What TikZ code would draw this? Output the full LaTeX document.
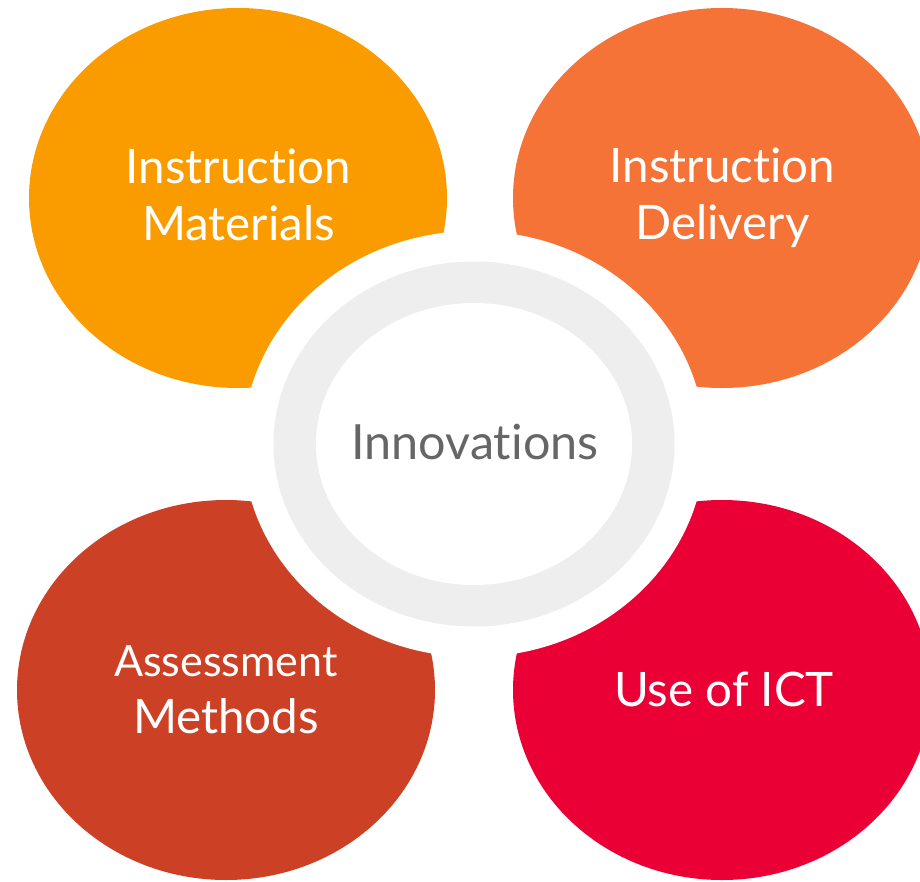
\documentclass[tikz,border=0pt]{standalone}
\usepackage{fontspec}
\setmainfont{Lato}[Ligatures=NoCommon]
\definecolor{matlorange}{HTML}{FA9B00}
\definecolor{delivorange}{HTML}{F57336}
\definecolor{assessrust}{HTML}{CC4125}
\definecolor{ictred}{HTML}{EB0036}
\definecolor{hubgray}{HTML}{EEEEEE}
\definecolor{hubtext}{HTML}{666666}
\tikzset{
  petal/.style={text=white, align=center, font=\fontsize{47.5}{57}\selectfont},
  hublabel/.style={text=hubtext, font=\fontsize{48.5}{57}\selectfont},
}
\begin{document}
\begin{tikzpicture}[x=1pt,y=-1pt]
    \useasboundingbox (0,0) rectangle (920,881);
    \clip (0,0) rectangle (920,881);
    \foreach \c/\x/\y in {matlorange/238/198, delivorange/722/198, assessrust/226/690, ictred/722/690}
        \fill[\c] (\x,\y) ellipse [x radius=209pt, y radius=190pt];
    % white gap round the hub, then the ring
    \fill[white] (474,444) ellipse [x radius=231pt, y radius=213pt];
    \fill[hubgray] (474,444) ellipse [x radius=200.5pt, y radius=182.5pt];
    \fill[white] (474,444) ellipse [x radius=158pt, y radius=141pt];
    \node[hublabel] (hub) at (475,442) {Innovations};
    \node[petal] (matl) at (238.5,195) {Instruction\\Materials};
    \node[petal] (deliv) at (722.5,198) {Instruction\\Delivery};
    \node[petal] (assess) at (226,690) {{\fontsize{43}{57}\selectfont Assessment}\\Methods};
    \node[petal] (ict) at (724,689) {Use of ICT};
\end{tikzpicture}
\end{document}
